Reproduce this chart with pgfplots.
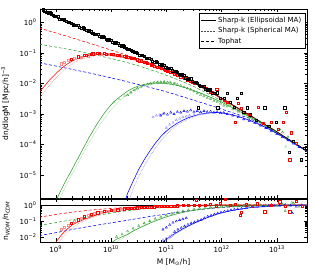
\documentclass[border=0pt]{standalone}
\usepackage{fontspec}
\setmainfont{DejaVu Sans}
\usepackage{pgfplots}
\pgfplotsset{compat=1.18}
\definecolor{wr}{rgb}{1,0,0}
\definecolor{wrl}{rgb}{1,0.55,0.55}
\definecolor{wg}{rgb}{0.2,0.62,0.2}
\definecolor{wgl}{rgb}{0.55,0.82,0.55}
\definecolor{wb}{rgb}{0,0,1}
\definecolor{wbl}{rgb}{0.55,0.55,1}
\tikzset{
  mysq/.style={only marks, mark=square, mark size=1.1pt, mark options={line width=0.35pt, solid}},
  mytri/.style={only marks, mark=triangle, mark size=1.3pt, mark options={line width=0.35pt, solid}},
  mysl/.style={line width=0.55pt},
  mydl/.style={line width=0.55pt, dash pattern=on 3pt off 2pt},
  mytl/.style={line width=0.6pt, dash pattern=on 0.6pt off 0.9pt},
}
\begin{document}
\begin{tikzpicture}
\begin{axis}[scale only axis, width=267pt, xmode=log, ymode=log,
  xmin=5.2e8, xmax=3.5e13, tick align=inside,
  major tick length=3.5pt, minor tick length=2pt,
  tick style={black, line width=0.4pt},
  axis line style={line width=0.6pt},
  tick label style={font=\fontsize{7}{8}\selectfont},
  every axis label/.append style={font=\fontsize{7.5}{9}\selectfont},
  xtick={1e9,1e10,1e11,1e12,1e13},
  at={(0,0)}, anchor=north west, height=189pt,
  ymin=1.76e-6, ymax=2.77, xticklabels={},
  ytick={1e-5,1e-4,1e-3,1e-2,1e-1,1},
  yticklabels={10\textsuperscript{−5},10\textsuperscript{−4},10\textsuperscript{−3},10\textsuperscript{−2},10\textsuperscript{−1},10\textsuperscript{0}},
  ylabel={dn/dlogM [Mpc/h]\textsuperscript{−3}},
  ylabel style={at={(axis description cs:-0.1,0.5)}, anchor=south},
  legend style={at={(0.9925,0.977)}, anchor=north east, draw=black, line width=0.5pt,
    fill=white, font=\fontsize{7}{8}\selectfont, inner sep=1.5pt, row sep=-0.5pt,
    cells={anchor=west}},
  legend image code/.code={\draw[#1] (0pt,0pt) -- (15pt,0pt);},
]
\addlegendimage{black, line width=0.55pt}
\addlegendentry{Sharp-k (Ellipsoidal MA)}
\addlegendimage{black!70, line width=0.6pt, dash pattern=on 0.6pt off 0.9pt}
\addlegendentry{Sharp-k (Spherical MA)}
\addlegendimage{black, line width=0.55pt, dash pattern=on 3pt off 2pt}
\addlegendentry{Tophat}
% ---- dashed (tophat)
\addplot[forget plot, mydl, wr] coordinates {(5.012e8,0.6607) (1.585e9,0.3548) (5.012e9,0.1862) (1.585e10,9.550e-2) (3.162e10,6.310e-2) (7.943e10,3.467e-2) (1.585e11,2.138e-2) (3.162e11,1.122e-2) (6.310e11,5.623e-3) (1.259e12,2.570e-3) (3.162e12,9.333e-4) (1e13,2.6e-4) (3.981e13,5.248e-5)};
\addplot[forget plot, mydl, wg] coordinates {(5.012e8,0.1950) (1.585e9,0.1349) (5.012e9,8.913e-2) (1.585e10,5.370e-2) (3.162e10,3.802e-2) (7.943e10,2.188e-2) (1.585e11,1.349e-2) (3.162e11,7.943e-3) (6.310e11,4.169e-3) (1.259e12,2.188e-3) (3.162e12,8.511e-4) (1e13,2.512e-4) (3.981e13,5.248e-5)};
\addplot[forget plot, mydl, wb] coordinates {(5.012e8,4.786e-2) (1.585e9,3.162e-2) (5.012e9,2.042e-2) (1.585e10,1.259e-2) (3.981e10,8.318e-3) (7.943e10,6.026e-3) (1.585e11,4.169e-3) (3.162e11,2.818e-3) (6.310e11,1.905e-3) (1.259e12,1.259e-3) (3.162e12,7.244e-4) (1e13,2.291e-4) (3.981e13,5.129e-5)};
% ---- dotted (spherical)
\addplot[forget plot, mytl, wrl] coordinates {(5.012e8,3.236e-3) (7.943e8,9.333e-3) (1e9,1.479e-2) (1.585e9,3.388e-2) (2.512e9,5.623e-2) (3.981e9,7.413e-2) (6.310e9,8.318e-2) (1e10,8.128e-2) (2.512e10,5.888e-2) (6.310e10,3.631e-2) (1.995e11,1.549e-2) (1e12,3.162e-3) (3.981e13,5.248e-5)};
\addplot[forget plot, mytl, wgl] coordinates {(1e9,8.913e-7) (1.585e9,5.012e-6) (2.512e9,2.399e-5) (3.981e9,1.122e-4) (6.310e9,4.467e-4) (1e10,1.413e-3) (1.585e10,3.162e-3) (2.512e10,5.888e-3) (3.981e10,8.511e-3) (6.310e10,1e-2) (1e11,9.772e-3) (1.585e11,8.511e-3) (3.981e11,5.012e-3) (1e12,2.455e-3) (3.981e13,5.248e-5)};
\addplot[forget plot, mytl, wbl] coordinates {(1.995e10,1e-6) (2.512e10,3.548e-6) (3.162e10,8.913e-6) (3.981e10,1.995e-5) (5.012e10,3.981e-5) (6.310e10,7.586e-5) (7.943e10,1.318e-4) (1e11,2.138e-4) (1.585e11,4.365e-4) (2.512e11,6.918e-4) (3.981e11,9.333e-4) (6.310e11,1.072e-3) (1e12,1.096e-3) (1.995e12,8.318e-4) (3.981e12,5.248e-4) (1e13,2.291e-4) (3.981e13,5.248e-5)};
% ---- solid (ellipsoidal)
\addplot[forget plot, mysl, wr] coordinates {(5.012e8,5.129e-3) (6.310e8,8.318e-3) (7.943e8,1.380e-2) (1e9,2.089e-2) (1.259e9,3.090e-2) (1.585e9,4.266e-2) (1.995e9,5.495e-2) (2.512e9,6.607e-2) (3.162e9,7.586e-2) (3.981e9,8.318e-2) (5.012e9,8.913e-2) (6.310e9,9.120e-2) (7.943e9,9.120e-2) (1e10,8.710e-2) (1.585e10,7.586e-2) (2.512e10,6.166e-2) (3.981e10,4.898e-2) (6.310e10,3.715e-2) (1e11,2.754e-2) (1.995e11,1.585e-2) (3.981e11,8.318e-3) (1e12,3.162e-3) (3.162e12,9.120e-4) (1e13,2.570e-4) (3.981e13,5.248e-5)};
\addplot[forget plot, mysl, wg] coordinates {(1e9,1.413e-6) (1.259e9,3.311e-6) (1.585e9,7.413e-6) (1.995e9,1.585e-5) (2.512e9,3.467e-5) (3.162e9,7.586e-5) (3.981e9,1.660e-4) (5.012e9,3.388e-4) (6.310e9,6.607e-4) (7.943e9,1.202e-3) (1e10,1.995e-3) (1.259e10,3.020e-3) (1.585e10,4.169e-3) (1.995e10,5.623e-3) (2.512e10,7.079e-3) (3.162e10,8.318e-3) (3.981e10,9.333e-3) (5.012e10,1e-2) (6.310e10,1.023e-2) (1e11,1e-2) (1.585e11,8.710e-3) (2.512e11,6.761e-3) (3.981e11,5.012e-3) (6.310e11,3.548e-3) (1e12,2.455e-3) (1.995e12,1.288e-3) (3.981e12,6.457e-4) (1e13,2.512e-4) (3.981e13,5.248e-5)};
\addplot[forget plot, mysl, wb] coordinates {(1.585e10,6.310e-7) (1.995e10,2.512e-6) (2.512e10,6.310e-6) (3.162e10,1.514e-5) (3.981e10,3.162e-5) (5.012e10,6.026e-5) (6.310e10,1.096e-4) (7.943e10,1.820e-4) (1e11,2.754e-4) (1.259e11,3.802e-4) (1.585e11,5.012e-4) (1.995e11,6.310e-4) (2.512e11,7.586e-4) (3.162e11,8.710e-4) (3.981e11,9.772e-4) (5.012e11,1.047e-3) (6.310e11,1.096e-3) (7.943e11,1.122e-3) (1e12,1.096e-3) (1.259e12,1.023e-3) (1.585e12,9.333e-4) (1.995e12,8.318e-4) (2.512e12,7.244e-4) (3.162e12,6.310e-4) (5.012e12,4.365e-4) (7.943e12,2.951e-4) (1.259e13,1.820e-4) (1.995e13,1.122e-4) (3.162e13,6.761e-5) (3.981e13,5.248e-5)};
\addplot[forget plot, mysl, black] coordinates {(5.012e8,2.884) (7.943e8,1.950) (1.259e9,1.318) (1.995e9,0.9120) (3.162e9,0.6310) (5.012e9,0.4365) (7.943e9,0.3020) (1.259e10,0.2042) (1.995e10,0.1380) (3.162e10,0.09333) (5.012e10,0.06310) (7.943e10,0.04266) (1.259e11,0.02818) (1.995e11,0.01820) (3.162e11,0.01148) (5.012e11,7.079e-3) (7.943e11,4.266e-3) (1.259e12,2.570e-3) (1.995e12,1.549e-3) (3.162e12,9.333e-4) (5.012e12,5.623e-4) (7.943e12,3.388e-4) (1.259e13,1.995e-4) (1.995e13,1.175e-4) (3.162e13,6.918e-5) (3.981e13,5.248e-5)};
% ---- points
\addplot[forget plot, mytri, wgl] coordinates {(1.122e10,2.399e-3) (1.413e10,3.162e-3) (1.778e10,3.981e-3) (2.291e10,5.248e-3) (2.884e10,6.607e-3) (3.467e10,7.943e-3) (4.571e10,9.333e-3) (5.754e10,1.047e-2) (7.079e10,1.122e-2) (9.120e10,1.175e-2) (1.148e11,1.122e-2) (1.445e11,1.023e-2) (1.445e13,8.511e-5) (1.862e13,2.512e-4)};
\addplot[forget plot, mytri, wg] coordinates {(1.995e10,4.169e-3) (2.291e10,5.012e-3) (2.630e10,6.026e-3) (3.020e10,6.918e-3) (3.467e10,7.943e-3) (3.981e10,8.710e-3) (4.571e10,9.333e-3) (5.248e10,1e-2) (6.026e10,1.072e-2) (6.918e10,1.096e-2) (7.943e10,1.122e-2) (9.120e10,1.122e-2) (1.047e11,1.096e-2) (1.202e11,1.047e-2) (1.380e11,1e-2) (1.585e11,9.120e-3) (1.820e11,8.511e-3) (2.089e11,7.586e-3) (2.399e11,6.918e-3) (2.754e11,6.310e-3) (3.162e11,5.495e-3) (3.631e11,4.786e-3) (4.169e11,4.266e-3) (4.786e11,3.802e-3) (5.495e11,3.388e-3) (6.310e11,3.162e-3) (7.244e11,2.692e-3) (8.318e11,2.512e-3) (9.550e11,2.188e-3) (1.096e12,1.905e-3) (1.259e12,1.778e-3) (1.585e12,1.413e-3) (1.995e12,1.202e-3) (2.512e12,1e-3) (3.162e12,7.943e-4) (3.981e12,6.918e-4) (5.012e12,5.370e-4) (7.079e12,3.981e-4) (8.913e12,2.818e-4) (1.122e13,3.162e-4) (1.259e13,2.512e-4) (1.585e13,1.778e-4) (2.818e13,2.818e-5)};
\addplot[forget plot, mytri, wbl] coordinates {(5.754e10,7.943e-4) (6.607e10,8.913e-4) (7.586e10,9.333e-4) (8.710e10,1e-3) (1e11,3.548e-4) (1.148e11,4.467e-4) (1.318e11,5.248e-4) (1.514e11,6.310e-4) (1.738e11,7.079e-4) (1.995e11,7.943e-4) (2.291e11,8.318e-4) (2.630e11,8.913e-4) (3.162e11,9.550e-4) (3.981e11,1.023e-3)};
\addplot[forget plot, mytri, wb] coordinates {(7.943e10,8.913e-4) (9.120e10,1.047e-3) (1.047e11,9.550e-4) (1.202e11,1.122e-3) (1.380e11,1e-3) (1.585e11,1.175e-3) (1.820e11,1.122e-3) (2.089e11,1.259e-3) (2.399e11,1.202e-3) (2.754e11,1.318e-3) (3.162e11,1.175e-3) (3.631e11,1.259e-3) (4.169e11,1.148e-3) (4.786e11,1.259e-3) (5.495e11,1.175e-3) (6.310e11,1.202e-3) (7.244e11,1.122e-3) (8.318e11,1.175e-3) (9.550e11,1.072e-3) (1.096e12,1.096e-3) (1.259e12,1e-3) (1.585e12,8.913e-4) (1.995e12,7.943e-4) (2.512e12,6.761e-4) (3.162e12,6.026e-4) (3.981e12,5.012e-4) (5.012e12,4.169e-4) (6.310e12,3.467e-4) (7.943e12,2.818e-4) (1e13,2.188e-4) (1.259e13,1.738e-4) (1.585e13,1.380e-4) (1.995e13,1.072e-4) (2.512e13,8.318e-5)};
\addplot[forget plot, mysq, wrl] coordinates {(1.259e9,4.467e-2) (1.445e9,5.012e-2) (1.660e9,5.888e-2) (2.188e9,6.607e-2) (2.884e9,7.244e-2) (3.802e9,8.128e-2) (5.012e9,8.913e-2) (6.607e9,9.120e-2) (8.710e9,8.913e-2) (1.148e10,8.511e-2) (1.514e10,7.943e-2)};
\addplot[forget plot, mysq, wr] coordinates {(1.905e9,6.310e-2) (2.512e9,7.586e-2) (3.311e9,8.511e-2) (4.365e9,9.333e-2) (5.754e9,0.1) (7.586e9,9.772e-2) (1e10,9.333e-2) (1.318e10,8.710e-2) (1.738e10,7.762e-2) (1.995e10,7.244e-2) (2.291e10,6.761e-2) (2.630e10,6.607e-2) (3.020e10,6.026e-2) (3.467e10,5.623e-2) (3.981e10,5.012e-2) (4.571e10,4.677e-2) (5.248e10,4.169e-2) (6.026e10,3.802e-2) (6.918e10,3.467e-2) (7.943e10,3.162e-2) (9.120e10,2.884e-2) (1.047e11,2.512e-2) (1.202e11,2.399e-2) (1.380e11,2.042e-2) (1.585e11,1.905e-2) (1.820e11,1.660e-2) (2.089e11,1.514e-2) (2.399e11,1.318e-2) (2.754e11,1.202e-2) (3.162e11,1.023e-2) (3.631e11,1e-2) (4.169e11,7.943e-3) (4.786e11,7.586e-3) (5.495e11,6.310e-3) (6.310e11,5.370e-3) (7.244e11,4.677e-3) (8.128e11,6.457e-3) (9.550e11,3.388e-3) (1.096e12,2.884e-3) (1.259e12,2.512e-3) (1.738e12,5.248e-4) (1.995e12,2.239e-3) (2.291e12,1.585e-3) (3.162e12,1e-3) (4.571e12,1.660e-3) (5.623e12,5.012e-4) (7.943e12,5.248e-4) (1.047e13,3.162e-4) (1.288e13,5.248e-4) (1.479e13,1.148e-3) (1.820e13,2.455e-4) (2.239e13,1.122e-4) (1.698e13,3.162e-5)};
\addplot[forget plot, mysq, wr] coordinates {(3.548e9,8.710e-2) (4.677e9,9.550e-2) (6.166e9,0.1) (8.128e9,9.333e-2) (1.072e10,9.120e-2) (1.413e10,8.318e-2) (1.862e10,7.586e-2) (2.455e10,6.761e-2) (3.236e10,5.623e-2) (4.266e10,5.012e-2) (5.623e10,3.981e-2) (7.413e10,3.548e-2) (9.772e10,2.818e-2) (1.288e11,2.344e-2) (1.698e11,1.820e-2) (2.239e11,1.479e-2) (2.951e11,1.122e-2) (3.890e11,8.913e-3) (5.129e11,6.761e-3) (6.761e11,5.012e-3)};
\addplot[forget plot, mysq, black] coordinates {(5.495e8,2.884) (6.310e8,2.455) (7.244e8,1.995) (8.318e8,1.950) (9.550e8,1.585) (1.096e9,1.549) (1.259e9,1.259) (1.445e9,1.230) (1.660e9,1.0) (1.905e9,0.9772) (2.188e9,0.7943) (2.512e9,0.7943) (2.884e9,0.6457) (3.311e9,0.6310) (3.802e9,0.5129) (4.365e9,0.5012) (5.012e9,0.4266) (5.754e9,0.4169) (6.607e9,0.3388) (7.586e9,0.3236) (8.710e9,0.2692) (1e10,0.2570) (1.148e10,0.2138) (1.318e10,0.2042) (1.514e10,0.1660) (1.738e10,0.1622) (1.995e10,0.1349) (2.291e10,0.1259) (2.630e10,0.1047) (3.020e10,0.1) (3.467e10,8.318e-2) (3.981e10,7.943e-2) (4.571e10,6.607e-2) (5.248e10,6.310e-2) (6.026e10,5.129e-2) (6.918e10,5.012e-2) (7.943e10,4.074e-2) (9.120e10,3.981e-2) (1.047e11,3.162e-2) (1.202e11,3.090e-2) (1.380e11,2.512e-2) (1.585e11,2.399e-2) (1.820e11,1.862e-2) (2.089e11,1.820e-2) (2.399e11,1.413e-2) (2.754e11,1.445e-2) (3.162e11,1.072e-2) (3.631e11,1.047e-2) (3.715e11,1.622e-3) (4.169e11,8.128e-3) (4.786e11,7.943e-3) (5.495e11,5.888e-3) (6.310e11,6.310e-3) (7.244e11,4.786e-3) (8.318e11,5.012e-3) (8.511e11,1.622e-3) (9.550e11,3.236e-3) (1.096e12,3.236e-3) (1.259e12,4.786e-3) (1.445e12,2.399e-3) (1.660e12,1.698e-3) (1.905e12,3.236e-3) (2.291e12,4.786e-3) (2.512e12,1.122e-3) (2.884e12,1.622e-3) (3.311e12,9.550e-4) (4.169e12,6.310e-4) (6.026e12,1.622e-3) (7.079e12,3.981e-4) (9.550e12,5.248e-4) (1.380e13,1.622e-3) (1.660e13,5.754e-5) (1.995e13,1.259e-4) (2.754e13,3.162e-5) (3.162e13,7.586e-5)};
\addplot[forget plot, mysq, black] coordinates {(5.888e8,2.630) (6.761e8,2.138) (7.762e8,2.089) (8.913e8,1.698) (1.023e9,1.660) (1.175e9,1.318) (1.349e9,1.318) (1.549e9,1.072) (1.778e9,1.047) (2.042e9,0.8511) (2.344e9,0.8318) (2.692e9,0.6918) (3.090e9,0.6761) (3.548e9,0.5495) (4.074e9,0.5370) (4.677e9,0.4467) (5.370e9,0.4266) (6.166e9,0.3548) (7.079e9,0.3467) (8.128e9,0.2818) (9.333e9,0.2754) (1.072e10,0.2239) (1.230e10,0.2188) (1.413e10,0.1778) (1.622e10,0.1738) (1.862e10,0.1413) (2.138e10,0.1349) (2.455e10,0.1122) (2.818e10,0.1072) (3.236e10,8.710e-2) (3.715e10,8.511e-2) (4.266e10,6.918e-2) (4.898e10,6.761e-2) (5.623e10,5.495e-2) (6.457e10,5.370e-2) (7.413e10,4.365e-2) (8.511e10,4.169e-2) (9.772e10,3.388e-2) (1.122e11,3.236e-2) (1.288e11,2.630e-2) (1.479e11,2.512e-2) (1.698e11,2.042e-2) (1.950e11,1.950e-2) (2.239e11,1.549e-2) (2.570e11,1.479e-2) (2.951e11,1.175e-2) (3.388e11,1.122e-2) (3.890e11,8.710e-3) (4.467e11,8.318e-3) (5.129e11,6.607e-3) (5.888e11,6.310e-3) (6.761e11,4.898e-3)};
\end{axis}
\begin{axis}[scale only axis, width=267pt, xmode=log, ymode=log,
  xmin=5.2e8, xmax=3.5e13, tick align=inside,
  major tick length=3.5pt, minor tick length=2pt,
  tick style={black, line width=0.4pt},
  axis line style={line width=0.6pt},
  tick label style={font=\fontsize{7}{8}\selectfont},
  every axis label/.append style={font=\fontsize{7.5}{9}\selectfont},
  xtick={1e9,1e10,1e11,1e12,1e13},
  at={(0,-190pt)}, anchor=north west, height=43pt,
  ymin=5.37e-3, ymax=2.34,
  xticklabels={10\textsuperscript{9},10\textsuperscript{10},10\textsuperscript{11},10\textsuperscript{12},10\textsuperscript{13}},
  ytick={1e-2,1e-1,1},
  yticklabels={10\textsuperscript{−2},10\textsuperscript{−1},10\textsuperscript{0}},
  xlabel={M [M\textsubscript{⊙}/h]},
  ylabel={n\textsubscript{\textit{WDM}}/n\textsubscript{\textit{CDM}}},
  ylabel style={at={(axis description cs:-0.1,0.5)}, anchor=south},
]
\addplot[forget plot, black, line width=1pt] coordinates {(5e8,1) (4e13,1)};
% dashed
\addplot[forget plot, mydl, wr] coordinates {(5.012e8,0.1778) (1e9,0.2630) (1.995e9,0.3631) (3.981e9,0.4786) (7.079e9,0.5623) (1.862e10,0.7244) (3.981e10,0.8318) (1e11,0.9120) (3.162e11,0.966) (1e12,1) (3.981e13,1)};
\addplot[forget plot, mydl, wg] coordinates {(5.012e8,5.495e-2) (1e9,8.318e-2) (1.995e9,0.1259) (3.981e9,0.1905) (7.943e9,0.2818) (1.862e10,0.4365) (3.981e10,0.5754) (1e11,0.7244) (3.162e11,0.8511) (1e12,0.9333) (3.162e12,0.9772) (3.981e13,1)};
\addplot[forget plot, mydl, wb] coordinates {(5.012e8,1.318e-2) (1e9,1.995e-2) (1.995e9,3.162e-2) (3.981e9,4.786e-2) (7.943e9,7.079e-2) (1.862e10,0.1122) (3.981e10,0.1738) (7.943e10,0.2512) (1.585e11,0.3548) (3.162e11,0.4786) (6.310e11,0.6166) (1.259e12,0.7413) (3.162e12,0.8710) (1e13,0.9550) (3.981e13,1)};
% dotted
\addplot[forget plot, mytl, wrl] coordinates {(1e9,2.512e-3) (1.259e9,7.943e-3) (1.585e9,1.995e-2) (2.512e9,7.079e-2) (3.981e9,0.1413) (6.310e9,0.263) (1e10,0.4074) (1.995e10,0.6026) (6.310e10,0.8128) (3.162e11,0.955) (3.981e13,1)};
\addplot[forget plot, mytl, wgl] coordinates {(7.943e9,1.995e-3) (1e10,3.548e-3) (1.585e10,8.913e-3) (2.512e10,2.512e-2) (3.981e10,5.754e-2) (6.310e10,0.1148) (1e11,0.1995) (1.995e11,0.3548) (3.981e11,0.5248) (1e12,0.7244) (3.981e12,0.8913) (3.981e13,1)};
\addplot[forget plot, mytl, wbl] coordinates {(6.310e10,1.462e-3) (7.943e10,3.090e-3) (1e11,6.166e-3) (1.585e11,1.928e-2) (2.512e11,4.786e-2) (3.981e11,0.1035) (6.310e11,0.1950) (1e12,0.3311) (1.995e12,0.537) (3.981e12,0.7244) (1e13,0.881) (3.981e13,1)};
% solid
\addplot[forget plot, mysl, wr] coordinates {(7.943e8,1.585e-3) (1e9,5.012e-3) (1.259e9,1.413e-2) (1.585e9,3.162e-2) (1.995e9,6.026e-2) (2.512e9,8.913e-2) (3.162e9,0.1259) (3.981e9,0.1660) (5.012e9,0.2239) (6.310e9,0.2951) (7.943e9,0.3715) (1e10,0.4467) (1.413e10,0.5495) (1.995e10,0.6310) (3.162e10,0.7244) (6.310e10,0.8318) (1.259e11,0.8913) (3.162e11,0.9550) (1e12,1) (3.981e13,1)};
\addplot[forget plot, mysl, wg] coordinates {(8.913e9,3.162e-3) (1e10,4.677e-3) (1.259e10,7.943e-3) (1.585e10,1.122e-2) (1.995e10,1.585e-2) (2.512e10,2.512e-2) (3.162e10,3.715e-2) (3.981e10,5.370e-2) (5.012e10,7.586e-2) (6.310e10,0.1047) (1e11,0.1862) (1.585e11,0.2951) (2.512e11,0.4169) (3.981e11,0.5370) (6.310e11,0.6457) (1e12,0.7413) (1.995e12,0.8318) (3.981e12,0.8913) (1e13,0.966) (3.981e13,1)};
\addplot[forget plot, mysl, wb] coordinates {(3.162e10,1.622e-4) (5.012e10,9.550e-4) (6.310e10,2.113e-3) (7.943e10,4.266e-3) (1e11,7.943e-3) (1.259e11,1.349e-2) (1.585e11,2.213e-2) (1.995e11,3.467e-2) (2.512e11,5.248e-2) (3.162e11,7.586e-2) (3.981e11,0.1084) (5.012e11,0.1479) (6.310e11,0.1995) (7.943e11,0.2630) (1e12,0.3311) (1.259e12,0.3981) (1.585e12,0.4677) (1.995e12,0.5370) (2.512e12,0.6026) (3.162e12,0.6761) (5.012e12,0.7762) (7.943e12,0.8710) (1.259e13,0.9120) (1.995e13,0.9550) (3.162e13,0.9772) (3.981e13,1)};
% points
\addplot[forget plot, mytri, wbl] coordinates {(8.710e10,7.079e-3) (1e11,8.913e-3) (1.148e11,1.122e-2) (1.259e11,1.413e-2)};
\addplot[forget plot, mytri, wb] coordinates {(8.710e10,3.162e-2) (1e11,4.169e-2) (1.148e11,6.026e-2) (1.318e11,8.318e-2) (1.514e11,0.1) (1.738e11,0.1202) (1.995e11,0.1380) (2.291e11,0.1585) (1.413e11,2.291e-2) (1.622e11,3.162e-2) (1.862e11,3.981e-2) (2.138e11,5.012e-2) (2.455e11,6.310e-2) (2.818e11,7.586e-2) (3.236e11,8.913e-2) (3.715e11,0.1072) (4.266e11,0.1259) (4.898e11,0.1585) (5.623e11,0.1995) (6.457e11,0.2291) (7.413e11,0.2692) (8.511e11,0.3162) (9.772e11,0.3548) (1.122e12,0.3981) (1.288e12,0.4365) (1.479e12,0.4898) (1.698e12,0.5248) (1.950e12,0.5623) (2.291e12,0.6026) (2.818e12,0.6761) (3.548e12,0.7413) (4.467e12,0.7943) (5.623e12,0.8318) (7.079e12,0.8913) (8.913e12,0.9120) (1.122e13,0.9333) (1.413e13,1.047) (1.778e13,0.9333) (2.239e13,0.7943) (2.818e13,1) (1.905e13,0.3162)};
\addplot[forget plot, mytri, wg] coordinates {(1.259e10,1.122e-2) (1.585e10,1.585e-2) (1.995e10,2.399e-2) (2.512e10,3.548e-2) (3.162e10,5.248e-2) (3.981e10,7.586e-2) (5.012e10,0.1047) (6.310e10,0.1413) (7.943e10,0.1862) (1e11,0.2399) (1.259e11,0.3020) (1.585e11,0.3631) (1.995e11,0.4266) (2.512e11,0.4898) (3.162e11,0.5495) (3.981e11,0.6166) (5.012e11,0.6918) (6.310e11,0.7413) (7.943e11,0.7943) (1e12,0.8318) (1.259e12,0.8511) (1.585e12,0.8913) (1.995e12,0.9120) (2.512e12,0.9333) (3.162e12,0.9550) (3.981e12,0.9333) (5.012e12,1) (6.310e12,0.9550) (7.943e12,1.072) (1e13,0.8913) (1.259e13,1.122) (1.585e13,0.9333) (1.995e13,1.259) (2.512e13,0.7943) (1.413e13,0.4467) (1.862e13,1.413)};
\addplot[forget plot, mysq, wrl] coordinates {(1.259e9,3.162e-2) (1.445e9,4.266e-2) (1.660e9,5.623e-2) (2.188e9,0.1) (2.884e9,0.1585) (3.802e9,0.2291) (5.012e9,0.3020) (6.607e9,0.3715) (8.710e9,0.4365) (1.148e10,0.5012) (1.514e10,0.5623)};
\addplot[forget plot, mysq, wr] coordinates {(1.905e9,7.943e-2) (2.512e9,0.1259) (3.311e9,0.1905) (4.365e9,0.2692) (5.754e9,0.3388) (7.586e9,0.4074) (1e10,0.4677) (1.318e10,0.5248) (1.738e10,0.5888) (1.995e10,0.6166) (2.291e10,0.6457) (2.630e10,0.6761) (3.020e10,0.6918) (3.467e10,0.7244) (3.981e10,0.7413) (4.571e10,0.7586) (5.248e10,0.7762) (6.026e10,0.7943) (6.918e10,0.8128) (7.943e10,0.8318) (9.120e10,0.8511) (1.047e11,0.8710) (1.202e11,0.8913) (1.380e11,0.8913) (1.585e11,0.9120) (1.995e11,0.9333) (2.512e11,0.9550) (3.162e11,0.9333) (3.467e11,2.042) (3.981e11,1) (5.012e11,0.955) (6.310e11,1.072) (7.943e11,0.912) (9.550e11,1.259) (1.148e12,2.239) (1.413e12,0.955) (1.778e12,1.122) (2.138e12,0.2455) (2.291e12,0.3548) (2.818e12,1.047) (3.548e12,0.8913) (4.467e12,1.202) (6.026e12,0.3890) (7.943e12,1) (1.122e13,1.585) (1.413e13,0.8318) (1.698e13,0.3890) (2.239e13,1.778) (2.818e13,0.8913)};
\end{axis}
\pgfresetboundingbox
\path (-40pt,9pt) rectangle (276pt,-263pt);
\end{tikzpicture}
\end{document}
